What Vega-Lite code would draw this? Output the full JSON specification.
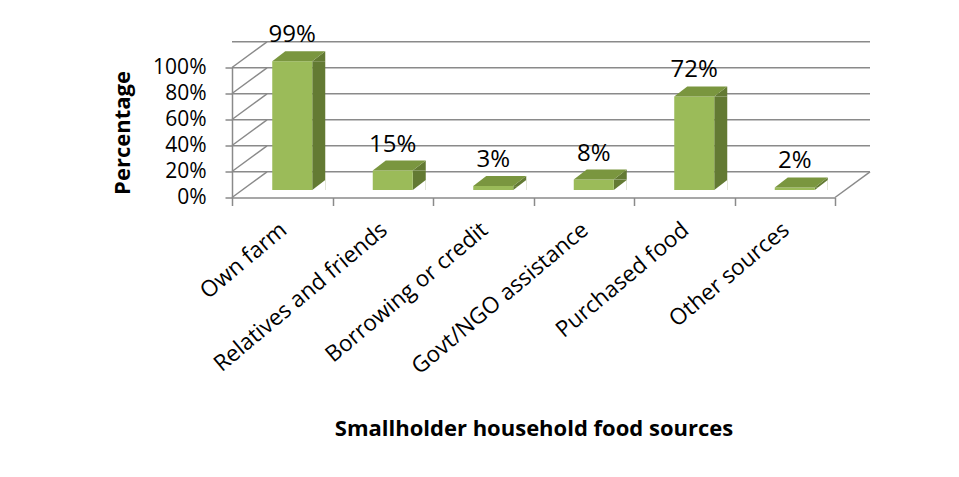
{
  "$schema": "https://vega.github.io/schema/vega-lite/v6.json",
  "width": 603,
  "height": 130,
  "autosize": {"type": "none"},
  "padding": {"left": 232, "top": 67.5, "right": 124, "bottom": 279.5},
  "background": "white",
  "config": {
    "view": {"stroke": null},
    "font": "Open Sans",
    "axisX": {
      "tickBand": "extent",
      "tickSize": 8,
      "tickColor": "#8a8a8a",
      "tickWidth": 1.5,
      "domainColor": "#8a8a8a",
      "domainWidth": 1.5,
      "labelAngle": -40,
      "labelAlign": "right",
      "labelBaseline": "middle",
      "labelFont": "Open Sans",
      "labelFontSize": 22.5,
      "labelColor": "#000000",
      "labelPadding": 21,
      "labelOffset": 1,
      "labelLimit": 400,
      "labelOverlap": false,
      "titleFont": "Open Sans",
      "titleFontSize": 22,
      "titleFontWeight": "bold",
      "titleColor": "#000000",
      "titleY": 221,
      "titleBaseline": "top",
      "grid": false
    },
    "axisY": {
      "tickSize": 7,
      "tickColor": "#8a8a8a",
      "tickWidth": 1.5,
      "domainColor": "#8a8a8a",
      "domainWidth": 1.5,
      "labelFont": "Open Sans",
      "labelFontSize": 21,
      "labelColor": "#000000",
      "labelPadding": 19,
      "labelOverlap": false,
      "labelFlush": false,
      "titleFont": "Open Sans",
      "titleFontSize": 22,
      "titleFontWeight": "bold",
      "titleColor": "#000000",
      "titleX": -103,
      "titleY": 65,
      "titleAngle": -90,
      "titleAlign": "center",
      "titleBaseline": "alphabetic",
      "grid": false
    }
  },
  "datasets": {
    "food": [
      {"source": "Own farm", "share": 0.99},
      {"source": "Relatives and friends", "share": 0.15},
      {"source": "Borrowing or credit", "share": 0.03},
      {"source": "Govt/NGO assistance", "share": 0.08},
      {"source": "Purchased food", "share": 0.72},
      {"source": "Other sources", "share": 0.02}
    ],
    "grid": [{"v": 0}, {"v": 0.2}, {"v": 0.4}, {"v": 0.6}, {"v": 0.8}, {"v": 1}],
    "floor": [{"v": 0}]
  },
  "layer": [
    {
      "data": {"name": "grid"},
      "mark": {"type": "rule", "stroke": "#8a8a8a", "strokeWidth": 1.5, "xOffset": 35, "x2Offset": 35, "yOffset": -25.7},
      "encoding": {
        "y": {"field": "v", "type": "quantitative", "title": "Percentage", "scale": {"domain": [0, 1], "nice": false}, "axis": {"values": [0, 0.2, 0.4, 0.6, 0.8, 1], "format": ".0%", "labelOverlap": false}}
      }
    },
    {
      "data": {"name": "grid"},
      "mark": {"type": "rule", "stroke": "#8a8a8a", "strokeWidth": 1.5, "x2Offset": 35, "y2Offset": -25.7},
      "encoding": {
        "x": {"datum": "Own farm", "type": "nominal", "bandPosition": 0, "title": "Smallholder household food sources", "scale": {"domain": ["Own farm", "Relatives and friends", "Borrowing or credit", "Govt/NGO assistance", "Purchased food", "Other sources"], "paddingInner": 0, "paddingOuter": 0}},
        "x2": {"datum": "Own farm", "bandPosition": 0},
        "y": {"field": "v", "type": "quantitative", "title": "Percentage", "axis": {"values": [0, 0.2, 0.4, 0.6, 0.8, 1], "format": ".0%", "labelOverlap": false}},
        "y2": {"field": "v"}
      }
    },
    {
      "data": {"name": "floor"},
      "mark": {"type": "rule", "stroke": "#8a8a8a", "strokeWidth": 1.5, "x2Offset": 35, "y2Offset": -25.7},
      "encoding": {
        "x": {"datum": "Other sources", "type": "nominal", "bandPosition": 1, "title": "Smallholder household food sources"},
        "x2": {"datum": "Other sources", "bandPosition": 1},
        "y": {"field": "v", "type": "quantitative", "title": "Percentage", "axis": {"values": [0, 0.2, 0.4, 0.6, 0.8, 1], "format": ".0%", "labelOverlap": false}},
        "y2": {"field": "v"}
      }
    },
    {
      "data": {"name": "food"},
      "mark": {"type": "bar", "width": 13, "xOffset": 36.5, "yOffset": -7.5, "y2Offset": -7.5, "color": "#637a33"},
      "encoding": {
        "x": {"field": "source", "type": "nominal", "sort": null, "title": "Smallholder household food sources"},
        "y": {"field": "share", "type": "quantitative", "title": "Percentage", "axis": {"values": [0, 0.2, 0.4, 0.6, 0.8, 1], "format": ".0%", "labelOverlap": false}},
        "y2": {"datum": 0}
      }
    },
    {
      "data": {"name": "food"},
      "mark": {"type": "point", "shape": "M20,0L33,-10L33,0Z", "size": 4, "filled": true, "opacity": 1, "strokeWidth": 0, "color": "#637a33", "xOffset": 10, "yOffset": -7.5},
      "encoding": {
        "x": {"field": "source", "type": "nominal", "sort": null, "title": "Smallholder household food sources"},
        "y": {"field": "share", "type": "quantitative", "title": "Percentage", "axis": {"values": [0, 0.2, 0.4, 0.6, 0.8, 1], "format": ".0%", "labelOverlap": false}}
      }
    },
    {
      "data": {"name": "food"},
      "mark": {"type": "point", "shape": "M20,0L33,0L33,-10Z", "size": 4, "filled": true, "opacity": 1, "strokeWidth": 0, "color": "#ffffff", "xOffset": 10, "yOffset": -7.5},
      "encoding": {
        "x": {"field": "source", "type": "nominal", "sort": null, "title": "Smallholder household food sources"},
        "y": {"datum": 0, "type": "quantitative", "title": "Percentage", "axis": {"values": [0, 0.2, 0.4, 0.6, 0.8, 1], "format": ".0%", "labelOverlap": false}}
      }
    },
    {
      "data": {"name": "food"},
      "mark": {"type": "bar", "width": 40, "xOffset": 10, "yOffset": -7.5, "y2Offset": -7.5, "color": "#9bbb59"},
      "encoding": {
        "x": {"field": "source", "type": "nominal", "sort": null, "title": "Smallholder household food sources"},
        "y": {"field": "share", "type": "quantitative", "title": "Percentage", "axis": {"values": [0, 0.2, 0.4, 0.6, 0.8, 1], "format": ".0%", "labelOverlap": false}},
        "y2": {"datum": 0}
      }
    },
    {
      "data": {"name": "food"},
      "mark": {"type": "point", "shape": "M-20,0L20,0L33,-10L-7,-10Z", "size": 4, "filled": true, "opacity": 1, "strokeWidth": 0, "color": "#7a963f", "xOffset": 10, "yOffset": -7.5},
      "encoding": {
        "x": {"field": "source", "type": "nominal", "sort": null, "title": "Smallholder household food sources"},
        "y": {"field": "share", "type": "quantitative", "title": "Percentage", "axis": {"values": [0, 0.2, 0.4, 0.6, 0.8, 1], "format": ".0%", "labelOverlap": false}}
      }
    },
    {
      "data": {"name": "food"},
      "mark": {"type": "text", "font": "Open Sans", "fontSize": 24, "color": "#000000", "baseline": "alphabetic", "align": "center", "xOffset": 10, "yOffset": -26.5},
      "encoding": {
        "x": {"field": "source", "type": "nominal", "sort": null, "title": "Smallholder household food sources"},
        "y": {"field": "share", "type": "quantitative", "title": "Percentage", "axis": {"values": [0, 0.2, 0.4, 0.6, 0.8, 1], "format": ".0%", "labelOverlap": false}},
        "text": {"field": "share", "type": "quantitative", "format": ".0%"}
      }
    }
  ]
}
